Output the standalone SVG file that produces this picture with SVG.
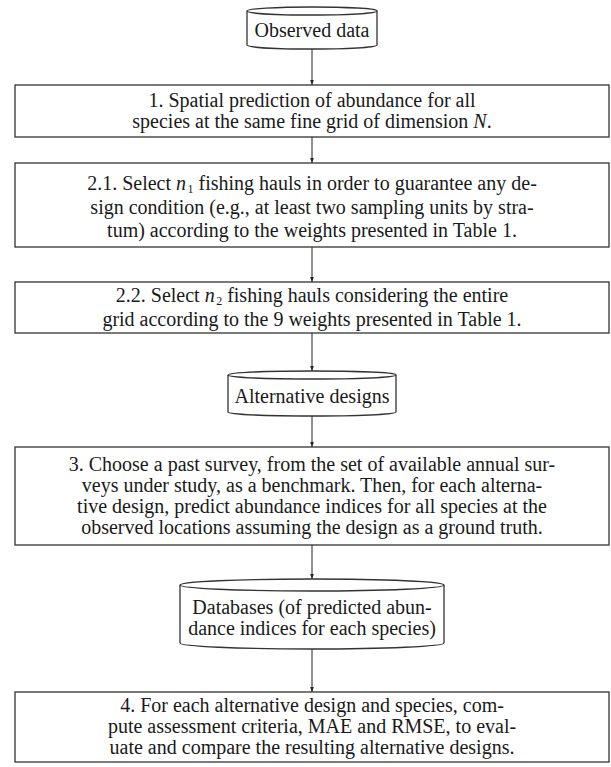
<svg xmlns="http://www.w3.org/2000/svg" width="611" height="767" viewBox="0 0 611 767">
<defs>
<marker id="ah" viewBox="0 0 6 6" refX="6" refY="3" markerWidth="5" markerHeight="5" orient="auto" markerUnits="userSpaceOnUse">
<path d="M0,0.8 L6,3 L0,5.2 Z" fill="#222"/>
</marker>
</defs>
<style>
.box{fill:#fff;stroke:#333;stroke-width:1.3}
.cyl{fill:#fff;stroke:#333;stroke-width:1.3}
.t{font-family:"Liberation Serif","DejaVu Serif",serif;font-size:20px;fill:#1a1a1a;text-anchor:middle}
.edge{stroke:#222;stroke-width:1;fill:none;marker-end:url(#ah)}
.i{font-style:italic}
.sub{font-size:12px}
</style>
<rect width="611" height="767" fill="#fff"/>
<g id="edges">
<line class="edge" x1="312" y1="49" x2="312" y2="85"/>
<line class="edge" x1="312" y1="137" x2="312" y2="163"/>
<line class="edge" x1="312" y1="247" x2="312" y2="282"/>
<line class="edge" x1="312" y1="333" x2="312" y2="371"/>
<line class="edge" x1="312" y1="416" x2="312" y2="447"/>
<line class="edge" x1="312" y1="545" x2="312" y2="579"/>
<line class="edge" x1="312" y1="649" x2="312" y2="692"/>
</g>
<g id="observed">
<path class="cyl" d="M247,11 A65,4 0 0 1 377,11 L377,45 A65,4 0 0 1 247,45 Z"/>
<path class="cyl" d="M247,11 A65,4 0 0 0 377,11"/>
<text class="t" x="312" y="37">Observed data</text>
</g>
<g id="step1">
<rect class="box" x="15" y="85" width="594" height="52"/>
<text class="t" x="312" y="106.5">1. Spatial prediction of abundance for all</text>
<text class="t" x="312" y="127.5">species at the same fine grid of dimension <tspan class="i">N</tspan>.</text>
</g>
<g id="step21">
<rect class="box" x="15" y="163" width="594" height="84"/>
<text class="t" x="312" y="190">2.1. Select <tspan class="i">n</tspan><tspan class="sub" dx="1.5" dy="2.5">1</tspan><tspan dy="-2.5"> fishing hauls in order to guarantee any de-</tspan></text>
<text class="t" x="312" y="214">sign condition (e.g., at least two sampling units by stra-</text>
<text class="t" x="312" y="237">tum) according to the weights presented in Table 1.</text>
</g>
<g id="step22">
<rect class="box" x="15" y="282" width="594" height="51"/>
<text class="t" x="312" y="302">2.2. Select <tspan class="i">n</tspan><tspan class="sub" dx="1.5" dy="2.5">2</tspan><tspan dy="-2.5"> fishing hauls considering the entire</tspan></text>
<text class="t" x="312" y="325.5">grid according to the 9 weights presented in Table 1.</text>
</g>
<g id="alternative">
<path class="cyl" d="M228,375 A84,4 0 0 1 396,375 L396,412 A84,4 0 0 1 228,412 Z"/>
<path class="cyl" d="M228,375 A84,4 0 0 0 396,375"/>
<text class="t" x="312" y="403">Alternative designs</text>
</g>
<g id="step3">
<rect class="box" x="15" y="447" width="594" height="98"/>
<text class="t" x="312" y="470.5">3. Choose a past survey, from the set of available annual sur-</text>
<text class="t" x="312" y="491.5">veys under study, as a benchmark. Then, for each alterna-</text>
<text class="t" x="312" y="512.5">tive design, predict abundance indices for all species at the</text>
<text class="t" x="312" y="533.5">observed locations assuming the design as a ground truth.</text>
</g>
<g id="databases">
<path class="cyl" d="M180,585 A132,6 0 0 1 444,585 L444,643 A132,6 0 0 1 180,643 Z"/>
<path class="cyl" d="M180,585 A132,6 0 0 0 444,585"/>
<text class="t" x="312" y="614">Databases (of predicted abun-</text>
<text class="t" x="312" y="635">dance indices for each species)</text>
</g>
<g id="step4">
<rect class="box" x="15" y="692" width="594" height="70"/>
<text class="t" x="312" y="712">4. For each alternative design and species, com-</text>
<text class="t" x="312" y="733">pute assessment criteria, MAE and RMSE, to eval-</text>
<text class="t" x="312" y="754">uate and compare the resulting alternative designs.</text>
</g>
</svg>
